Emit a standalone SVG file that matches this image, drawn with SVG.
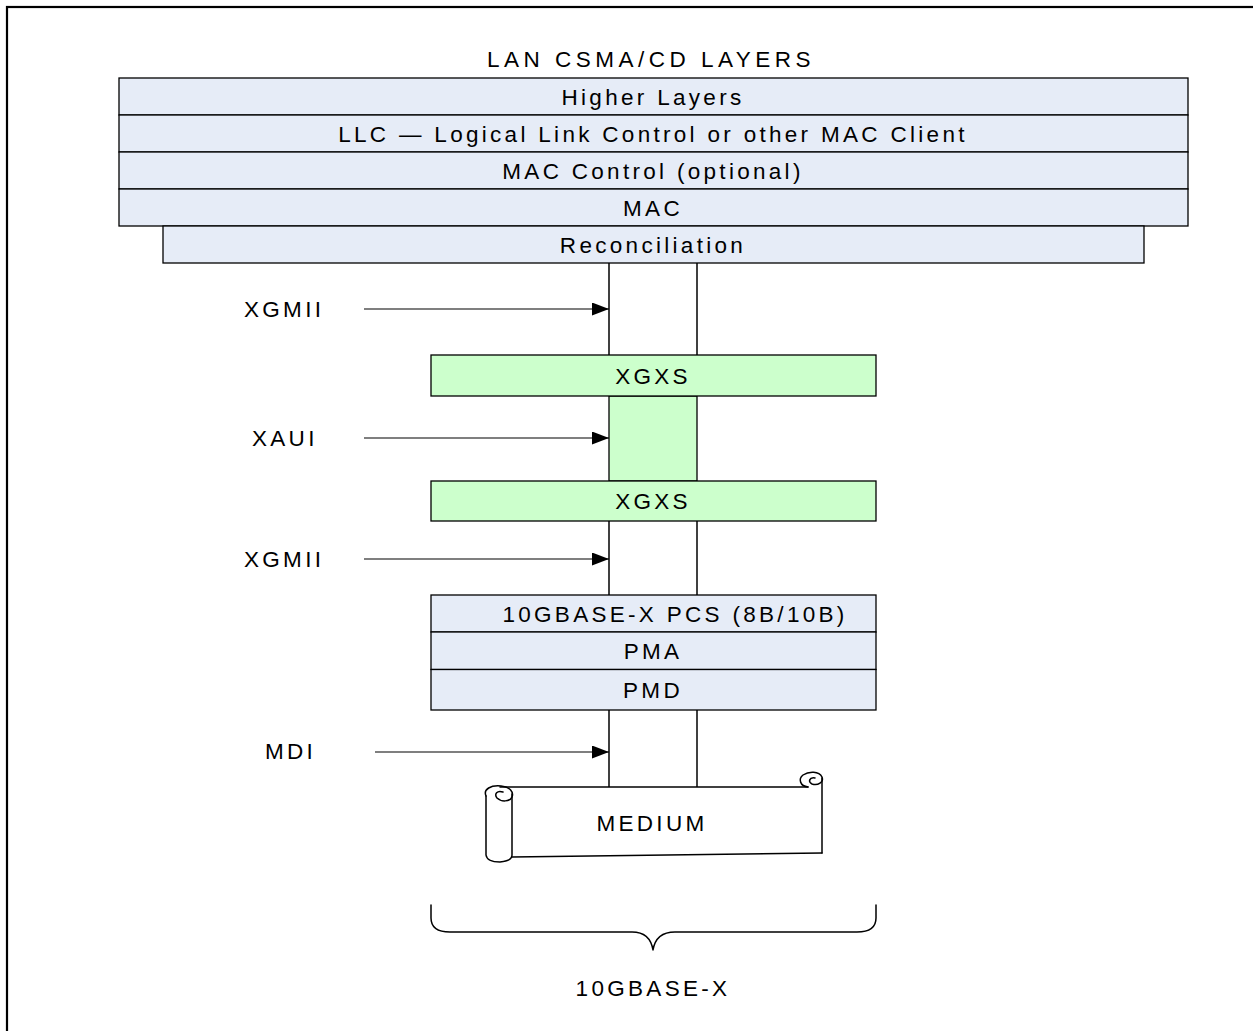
<svg xmlns="http://www.w3.org/2000/svg" width="1253" height="1031" viewBox="0 0 1253 1031">
<style>
.t{font-family:"Liberation Sans",Arial,sans-serif;font-size:22.5px;letter-spacing:3.3px;fill:#000}
.m{text-anchor:middle}
.layer{fill:#E6ECF7;stroke:#000;stroke-width:1.3}
.green{fill:#CCFFCC;stroke:#000;stroke-width:1.3}
.ln{stroke:#000;stroke-width:1.5;fill:none}
.arr{stroke:#000;stroke-width:1.2;fill:none;marker-end:url(#ah)}
.draw{stroke:#000;stroke-width:1.5;fill:none;stroke-linecap:round;stroke-linejoin:round}
</style>
<defs>
<marker id="ah" markerUnits="userSpaceOnUse" markerWidth="18" markerHeight="14" refX="17" refY="6.5" orient="auto">
<path d="M0,0 L17,6.5 L0,13 Z" fill="#000"/>
</marker>
</defs>
<rect x="0" y="0" width="1253" height="1031" fill="#fff"/>
<rect id="frame" x="7" y="7" width="1270" height="1050" fill="none" stroke="#000" stroke-width="2.2"/>

<text id="title" class="t m" x="651" y="67" style="letter-spacing:4.5px">LAN CSMA/CD LAYERS</text>

<g id="higher"><rect class="layer" x="119" y="78" width="1069" height="37"/><text class="t m" x="653" y="104.5">Higher Layers</text></g>
<g id="llc"><rect class="layer" x="119" y="115" width="1069" height="37"/><text class="t m" x="653" y="141.5">LLC — Logical Link Control or other MAC Client</text></g>
<g id="macctl"><rect class="layer" x="119" y="152" width="1069" height="37"/><text class="t m" x="653" y="178.5">MAC Control (optional)</text></g>
<g id="mac"><rect class="layer" x="119" y="189" width="1069" height="37"/><text class="t m" x="653" y="215.5">MAC</text></g>
<g id="recon"><rect class="layer" x="163" y="226" width="981" height="37"/><text class="t m" x="653" y="252.5">Reconciliation</text></g>

<g id="connectors">
<line class="ln" x1="609" y1="263" x2="609" y2="355"/>
<line class="ln" x1="697" y1="263" x2="697" y2="355"/>
<rect class="green" x="609" y="396" width="88" height="85"/>
<line class="ln" x1="609" y1="521" x2="609" y2="595"/>
<line class="ln" x1="697" y1="521" x2="697" y2="595"/>
<line class="ln" x1="609" y1="710" x2="609" y2="787"/>
<line class="ln" x1="697" y1="710" x2="697" y2="787"/>
<line class="arr" x1="364" y1="309" x2="609" y2="309"/>
<line class="arr" x1="364" y1="438" x2="609" y2="438"/>
<line class="arr" x1="364" y1="559" x2="609" y2="559"/>
<line class="arr" x1="375" y1="752" x2="609" y2="752"/>
</g>

<g id="xgxs1"><rect class="green" x="431" y="355" width="445" height="41"/><text class="t m" x="653" y="384">XGXS</text></g>
<g id="xgxs2"><rect class="green" x="431" y="481" width="445" height="40"/><text class="t m" x="653" y="509">XGXS</text></g>

<g id="pcs"><rect class="layer" x="431" y="595" width="445" height="37"/><text class="t m" x="675" y="621.5">10GBASE-X PCS (8B/10B)</text></g>
<g id="pma"><rect class="layer" x="431" y="632" width="445" height="37.5"/><text class="t m" x="653" y="659">PMA</text></g>
<g id="pmd"><rect class="layer" x="431" y="669.5" width="445" height="40.5"/><text class="t m" x="653" y="698">PMD</text></g>

<g id="lbl-xgmii1"><text class="t" x="244" y="317">XGMII</text></g>
<g id="lbl-xaui"><text class="t" x="252" y="446">XAUI</text></g>
<g id="lbl-xgmii2"><text class="t" x="244" y="567">XGMII</text></g>
<g id="lbl-mdi"><text class="t" x="265" y="759">MDI</text></g>

<g id="medium">
<rect x="510" y="787" width="312" height="68" fill="#fff"/>
<path class="draw" d="M500 787 L808 787"/>
<path class="draw" d="M512 857 L822 853"/>
<path class="draw" d="M822 778 L822 853"/>
<path class="draw" d="M486 796 L486 855 Q487 862 500 862 Q512 861 512 855 L512 794"/>
<path class="draw" d="M486 796 C483 789 491 785 501 786 C510 787 514 792 512 797 C510 802 501 802 497 798 C494 794 497 790 503 792"/>
<path class="draw" d="M808 787 C800 786 798 779 803 775 C809 771 819 771 822 777 C824 782 818 786 812 784 C808 782 809 777 815 778"/>
<text class="t m" x="652" y="831">MEDIUM</text>
</g>

<g id="brace">
<path class="draw" d="M431 905 L431 918 Q431 932 450 932 L632 932 Q650 932 653 950 Q656 932 675 932 L857 932 Q876 932 876 918 L876 905"/>
<text class="t m" x="653" y="996">10GBASE-X</text>
</g>
</svg>
